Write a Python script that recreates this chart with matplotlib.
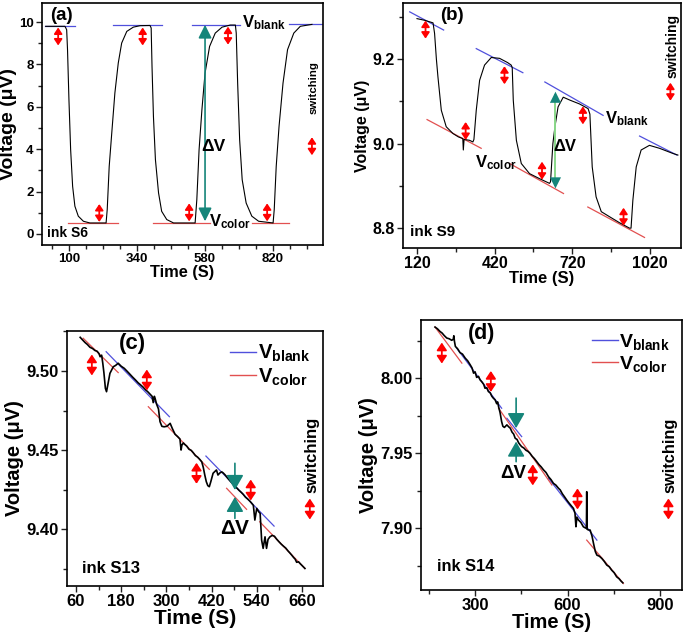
import matplotlib
matplotlib.use('Agg')
import matplotlib.pyplot as plt
from matplotlib.ticker import MultipleLocator, FormatStrFormatter
from matplotlib.lines import Line2D

plt.rcParams['font.family'] = ['Liberation Sans', 'DejaVu Sans']
plt.rcParams['font.weight'] = 'bold'
plt.rcParams['mathtext.fontset'] = 'custom'
plt.rcParams['mathtext.rm'] = 'Liberation Sans:bold'
plt.rcParams['mathtext.bf'] = 'Liberation Sans:bold'
plt.rcParams['mathtext.it'] = 'Liberation Sans:bold'
plt.rcParams['axes.linewidth'] = 1.2

#### panel (a) - ink S6 ####
ta = [18, 86, 92, 95, 100, 106, 113, 121, 133, 151,
      174, 231, 235, 242, 251, 262, 274, 286, 304, 327,
      351, 386, 390, 393, 398, 405, 416, 427, 445, 469,
      545, 551, 559, 569, 580, 596, 616, 640, 669, 687,
      690, 695, 702, 711, 725, 745, 769, 820, 824, 831,
      841, 855, 871, 893, 916, 957]
va = [9.80, 9.80, 9.64, 8.70, 6.34, 3.98, 2.25, 1.31, 0.84, 0.60,
      0.52, 0.52, 1.15, 3.19, 4.76, 6.65, 8.07, 9.01, 9.56, 9.76,
      9.83, 9.84, 9.72, 7.91, 5.55, 3.51, 1.94, 1.07, 0.68, 0.52,
      0.52, 1.62, 3.98, 5.87, 7.59, 8.85, 9.48, 9.76, 9.86, 9.86,
      9.48, 7.12, 4.45, 2.56, 1.46, 0.84, 0.60, 0.52, 1.15, 3.19,
      5.08, 7.12, 8.70, 9.48, 9.80, 9.89]
blank_a_t = [[15, 121], [257, 427], [533, 702], [875, 993]]
blank_a_v = [[9.80, 9.80], [9.84, 9.84], [9.87, 9.87], [9.90, 9.90]]
color_a_t = [[98, 274], [398, 598], [745, 875]]
color_a_v = [[0.52, 0.52], [0.52, 0.52], [0.52, 0.52]]
switch_a_t = [62, 207, 360, 524, 661, 799]
switch_a_v = [9.32, 0.99, 9.32, 1.02, 9.36, 1.02]

#### panel (b) - ink S9 ####
tb = [120, 150, 182, 188, 195, 201, 214, 233, 259, 280,
      297, 299, 302, 323, 336, 340, 349, 362, 381, 407,
      439, 470, 484, 488, 492, 504, 523, 555, 594, 632,
      636, 645, 653, 665, 685, 711, 748, 781, 788, 797,
      812, 832, 864, 902, 941, 947, 954, 967, 986, 1018,
      1057, 1108, 1128]
vb = [9.296, 9.292, 9.286, 9.261, 9.200, 9.158, 9.079, 9.040, 9.024, 9.016,
      9.012, 8.985, 9.010, 9.008, 9.004, 9.010, 9.079, 9.150, 9.186, 9.204,
      9.202, 9.192, 9.186, 9.180, 9.103, 9.008, 8.953, 8.929, 8.917, 8.906,
      8.910, 9.000, 9.040, 9.087, 9.110, 9.103, 9.094, 9.083, 9.070, 8.945,
      8.874, 8.839, 8.827, 8.813, 8.800, 8.800, 8.866, 8.945, 8.985, 8.996,
      8.989, 8.977, 8.973]
blank_b_t = [[92, 223], [349, 529], [614, 839], [980, 1124]]
blank_b_v = [[9.312, 9.269], [9.225, 9.168], [9.146, 9.067], [9.018, 8.973]]
color_b_t = [[159, 368], [478, 686], [780, 999]]
color_b_v = [[9.057, 8.989], [8.953, 8.882], [8.850, 8.778]]
switch_b_t = [153, 308, 458, 603, 761, 918]
switch_b_v = [9.270, 9.030, 9.162, 8.936, 9.067, 8.827]

#### panel (c) - ink S13 ####
tc = [71, 78, 84, 90, 97, 104, 110, 116, 121, 124,
      128, 131, 134, 138, 141, 145, 150, 159, 165, 172,
      180, 188, 195, 203, 210, 218, 225, 230, 238, 245,
      250, 256, 262, 265, 268, 270, 274, 279, 283, 288,
      294, 301, 306, 310, 316, 323, 330, 336, 339, 341,
      345, 349, 354, 360, 366, 371, 377, 383, 389, 394,
      398, 402, 406, 410, 414, 418, 424, 429, 433, 437,
      442, 447, 451, 457, 463, 469, 475, 481, 487, 493,
      499, 504, 510, 516, 522, 527, 531, 535, 540, 545,
      549, 553, 557, 562, 566, 570, 575, 581, 587, 593,
      599, 605, 611, 617, 623, 628, 633, 638, 642, 646,
      651, 656, 661, 668]
vc = [9.5213, 9.5195, 9.5180, 9.5168, 9.5150, 9.5142, 9.5130, 9.5125, 9.5110, 9.5090,
      9.5100, 9.5050, 9.4990, 9.4890, 9.4869, 9.4920, 9.4985, 9.5027, 9.5035, 9.5049,
      9.5030, 9.5017, 9.5000, 9.4980, 9.4962, 9.4943, 9.4925, 9.4915, 9.4898, 9.4880,
      9.4870, 9.4855, 9.4840, 9.4800, 9.4840, 9.4827, 9.4790, 9.4760, 9.4680, 9.4650,
      9.4647, 9.4650, 9.4660, 9.4669, 9.4635, 9.4600, 9.4585, 9.4570, 9.4500, 9.4530,
      9.4545, 9.4535, 9.4525, 9.4505, 9.4498, 9.4484, 9.4465, 9.4455, 9.4440, 9.4425,
      9.4390, 9.4342, 9.4300, 9.4275, 9.4268, 9.4300, 9.4353, 9.4365, 9.4374, 9.4342,
      9.4355, 9.4362, 9.4355, 9.4340, 9.4322, 9.4305, 9.4290, 9.4275, 9.4260, 9.4245,
      9.4232, 9.4220, 9.4202, 9.4190, 9.4176, 9.4162, 9.4150, 9.4057, 9.4131, 9.4110,
      9.4100, 9.3930, 9.3878, 9.3951, 9.3878, 9.3935, 9.3951, 9.3960, 9.3955, 9.3936,
      9.3920, 9.3905, 9.3892, 9.3880, 9.3862, 9.3849, 9.3835, 9.3820, 9.3810, 9.3790,
      9.3793, 9.3780, 9.3768, 9.3751]
blank_c_t = [[140, 308], [405, 586]]
blank_c_v = [[9.5122, 9.4711], [9.4462, 9.4019]]
color_c_t = [[79, 172], [252, 414], [460, 513], [548, 668]]
color_c_v = [[9.5207, 9.4990], [9.4774, 9.4378], [9.4258, 9.4125], [9.4046, 9.3751]]
switch_c_t = [102, 248, 380, 524]
switch_c_v = [9.5038, 9.4943, 9.4353, 9.4247]

#### panel (d) - ink S14 ####
td = [170, 178, 186, 193, 200, 208, 216, 224, 229, 231,
      233, 236, 243, 251, 259, 268, 276, 284, 290, 295,
      300, 305, 311, 316, 322, 328, 332, 338, 343, 349,
      354, 359, 365, 370, 373, 376, 381, 386, 390, 395,
      403, 409, 414, 420, 425, 430, 436, 441, 446, 451,
      458, 465, 472, 478, 485, 492, 500, 507, 514, 522,
      530, 538, 546, 554, 562, 570, 576, 583, 590, 597,
      604, 612, 619, 624, 627, 630, 635, 643, 651, 656,
      661, 662, 663, 667, 673, 679, 684, 690, 695, 703,
      711, 719, 727, 735, 743, 751, 759, 767, 773, 779]
vd = [8.0340, 8.0328, 8.0311, 8.0300, 8.0283, 8.0267, 8.0262, 8.0252, 8.0258, 8.0282,
      8.0245, 8.0211, 8.0196, 8.0170, 8.0160, 8.0133, 8.0115, 8.0089, 8.0068, 8.0033,
      8.0042, 8.0005, 8.0012, 7.9989, 7.9975, 7.9958, 7.9933, 7.9936, 7.9911, 7.9902,
      7.9880, 7.9867, 7.9855, 7.9830, 7.9842, 7.9811, 7.9770, 7.9711, 7.9680, 7.9672,
      7.9689, 7.9676, 7.9667, 7.9640, 7.9628, 7.9600, 7.9592, 7.9570, 7.9556, 7.9544,
      7.9535, 7.9520, 7.9512, 7.9500, 7.9480, 7.9465, 7.9444, 7.9425, 7.9410, 7.9389,
      7.9372, 7.9344, 7.9325, 7.9300, 7.9288, 7.9268, 7.9256, 7.9230, 7.9210, 7.9189,
      7.9170, 7.9150, 7.9133, 7.9100, 7.9011, 7.9075, 7.9056, 7.9040, 7.9011, 7.9005,
      7.9000, 7.9244, 7.8995, 7.8990, 7.8989, 7.8950, 7.8900, 7.8845, 7.8822, 7.8815,
      7.8800, 7.8780, 7.8756, 7.8745, 7.8722, 7.8705, 7.8678, 7.8665, 7.8650, 7.8638]
blank_d_t = [[240, 386], [403, 451], [538, 695]]
blank_d_v = [[8.0200, 7.9800], [7.9733, 7.9611], [7.9333, 7.8922]]
color_d_t = [[170, 257], [376, 549], [662, 781]]
color_d_v = [[8.0340, 8.0100], [7.9800, 7.9289], [7.8922, 7.8633]]
switch_d_t = [192, 351, 487, 632]
switch_d_v = [8.0167, 7.9978, 7.9356, 7.9196]

BLANK = '#5050dc'
COLOR = '#e25050'
TEAL = '#15857a'
W, H = 685, 635

fig = plt.figure(figsize=(W / 100, H / 100), dpi=100)


def box(l, r, t, b):
    return [l / W, 1 - b / H, (r - l) / W, (b - t) / H]


def style(ax, xlim, ylim, xmaj, xminor, ymaj, ystep, tfs, xfs, yfs, yfmt):
    ax.set_xlim(xlim)
    ax.set_ylim(ylim)
    ax.set_xticks(xmaj)
    ax.xaxis.set_minor_locator(xminor)
    ax.set_yticks(ymaj)
    ax.yaxis.set_minor_locator(MultipleLocator(ystep))
    ax.yaxis.set_major_formatter(FormatStrFormatter(yfmt))
    ax.tick_params(which='both', direction='out', top=False, right=False,
                   labelsize=tfs, width=1.0, pad=1.5, color='#222222')
    ax.tick_params(which='major', length=4.5)
    ax.tick_params(which='minor', length=3)
    ax.set_xlabel('Time (S)', fontsize=xfs, fontweight='bold', labelpad=0)
    ax.set_ylabel('Voltage (μV)', fontsize=yfs, fontweight='bold', labelpad=1.5)


def updown(ax, t, v, px=9, ms=8):
    # small red double arrow marking a switching event
    y0, y1 = ax.get_ylim()
    h = ax.get_position().height * H
    dv = px * (y1 - y0) / h
    ax.annotate('', xy=(t, v + dv), xytext=(t, v - dv),
                arrowprops=dict(arrowstyle='<|-|>,head_width=0.3,head_length=0.45',
                                color='red', lw=1.3, shrinkA=0, shrinkB=0,
                                mutation_scale=ms))


def segs(ax, ts, vs, c):
    for t, v in zip(ts, vs):
        ax.plot(t, v, color=c, lw=0.9)


def switching(ax, t_txt, v_txt, t_arr, v_arr, fs, px, ms):
    ax.text(t_txt, v_txt, 'switching', rotation=90, ha='center', va='center',
            fontsize=fs, fontweight='bold')
    updown(ax, t_arr, v_arr, px, ms)


# (a)
ax = fig.add_axes(box(42, 323, 3, 245))
style(ax, (5, 996), (-0.52, 10.9), [100, 340, 580, 820], MultipleLocator(60, offset=40),
      [0, 2, 4, 6, 8, 10], 1, 9.5, 11.8, 14, '%d')
segs(ax, blank_a_t, blank_a_v, BLANK)
segs(ax, color_a_t, color_a_v, COLOR)
ax.plot(ta, va, color='black', lw=0.8)
for t, v in zip(switch_a_t, switch_a_v):
    updown(ax, t, v)
ax.annotate('', xy=(580, 9.87), xytext=(580, 0.6),
            arrowprops=dict(arrowstyle='<|-|>,head_width=0.4,head_length=0.8',
                            color=TEAL, lw=1.2, shrinkA=0, shrinkB=0, mutation_scale=10))
ax.text(609, 4.13, 'ΔV', ha='center', va='center', fontsize=12.5, fontweight='bold')
ax.text(710, 9.98, r'$\mathbf{V_{blank}}$', ha='left', va='center', fontsize=12)
ax.text(593, 0.56, r'$\mathbf{V_{color}}$', ha='left', va='center', fontsize=12)
ax.text(72, 10.33, '(a)', ha='center', va='center', fontsize=13.5, fontweight='bold')
ax.text(21, 0.05, 'ink S6', ha='left', va='center', fontsize=10, fontweight='bold')
switching(ax, 962, 6.9, 957, 4.14, 8.2, 9, 8)

# (b)
ax = fig.add_axes(box(403, 681, 3, 248))
style(ax, (66, 1140), (8.753, 9.333), [120, 420, 720, 1020], MultipleLocator(150, offset=120),
      [8.8, 9.0, 9.2], 0.1, 11.5, 12, 11.5, '%.1f')
segs(ax, blank_b_t, blank_b_v, BLANK)
segs(ax, color_b_t, color_b_v, COLOR)
ax.plot(tb, vb, color='black', lw=0.8)
for t, v in zip(switch_b_t, switch_b_v):
    updown(ax, t, v)
ax.plot([655, 655], [9.115, 8.902], color='#8ad88a', lw=1.4)
ax.annotate('', xy=(655, 9.123), xytext=(655, 8.894),
            arrowprops=dict(arrowstyle='<|-|>,head_width=0.4,head_length=0.8',
                            fc=TEAL, ec=TEAL, lw=0, shrinkA=0, shrinkB=0, mutation_scale=10))
ax.text(691, 8.9925, 'ΔV', ha='center', va='center', fontsize=12, fontweight='bold')
ax.text(846, 9.06, r'$\mathbf{V_{blank}}$', ha='left', va='center', fontsize=12)
ax.text(344, 8.955, r'$\mathbf{V_{color}}$', ha='left', va='center', fontsize=12)
ax.text(254, 9.304, '(b)', ha='center', va='center', fontsize=13.5, fontweight='bold')
ax.text(93, 8.791, 'ink S9', ha='left', va='center', fontsize=11, fontweight='bold')
switching(ax, 1109, 9.231, 1099, 9.123, 10, 9, 8)

# (c)
ax = fig.add_axes(box(67, 323, 331, 586))
style(ax, (36, 716), (9.364, 9.5253), [60, 180, 300, 420, 540, 660], MultipleLocator(60),
      [9.40, 9.45, 9.50], 0.025, 12, 15, 14.5, '%.2f')
segs(ax, blank_c_t, blank_c_v, BLANK)
segs(ax, color_c_t, color_c_v, COLOR)
ax.plot(tc, vc, color='black', lw=1.2)
for t, v in zip(switch_c_t, switch_c_v):
    updown(ax, t, v, 10.5, 10)
arr = dict(arrowstyle='-|>,head_width=0.4,head_length=0.7', color=TEAL, lw=1.2,
           shrinkA=0, shrinkB=0, mutation_scale=13)
ax.annotate('', xy=(482, 9.4247), xytext=(482, 9.4416), arrowprops=arr)
ax.annotate('', xy=(482, 9.4204), xytext=(482, 9.4068), arrowprops=arr)
ax.text(482, 9.4004, 'ΔV', ha='center', va='center', fontsize=15, fontweight='bold')
ax.text(211, 9.5177, '(c)', ha='center', va='center', fontsize=16, fontweight='bold')
ax.text(76, 9.375, 'ink S13', ha='left', va='center', fontsize=12, fontweight='bold')
switching(ax, 686, 9.4468, 681, 9.4127, 12, 10.5, 10)
ax.legend([Line2D([], [], color=BLANK, lw=1), Line2D([], [], color=COLOR, lw=1)],
          [r'$\mathbf{V_{blank}}$', r'$\mathbf{V_{color}}$'], loc='upper right',
          frameon=False, fontsize=14.5, handlelength=1.3, handletextpad=0.1,
          labelspacing=0.1, borderaxespad=0.2)

# (d)
ax = fig.add_axes(box(421, 682, 320, 590))
style(ax, (124.5, 971), (7.859, 8.0387), [300, 600, 900], MultipleLocator(150),
      [7.90, 7.95, 8.00], 0.025, 12, 14.5, 14.5, '%.2f')
segs(ax, blank_d_t, blank_d_v, BLANK)
segs(ax, color_d_t, color_d_v, COLOR)
ax.plot(td, vd, color='black', lw=1.2)
for t, v in zip(switch_d_t, switch_d_v):
    updown(ax, t, v, 10.5, 10)
ax.annotate('', xy=(433, 7.9667), xytext=(433, 7.9867), arrowprops=arr)
ax.annotate('', xy=(433, 7.9578), xytext=(433, 7.9444), arrowprops=arr)
ax.text(424, 7.9367, 'ΔV', ha='center', va='center', fontsize=13.5, fontweight='bold')
ax.text(321.6, 8.030, '(d)', ha='center', va='center', fontsize=15.5, fontweight='bold')
ax.text(176, 7.8744, 'ink S14', ha='left', va='center', fontsize=11.8, fontweight='bold')
switching(ax, 932, 7.9484, 927, 7.9129, 11.8, 10.5, 10)
ax.legend([Line2D([], [], color=BLANK, lw=1), Line2D([], [], color=COLOR, lw=1)],
          [r'$\mathbf{V_{blank}}$', r'$\mathbf{V_{color}}$'], loc='upper right',
          frameon=False, fontsize=14, handlelength=1.3, handletextpad=0.1,
          labelspacing=0.1, borderaxespad=0.2)

fig.savefig('out.png', dpi=100)
